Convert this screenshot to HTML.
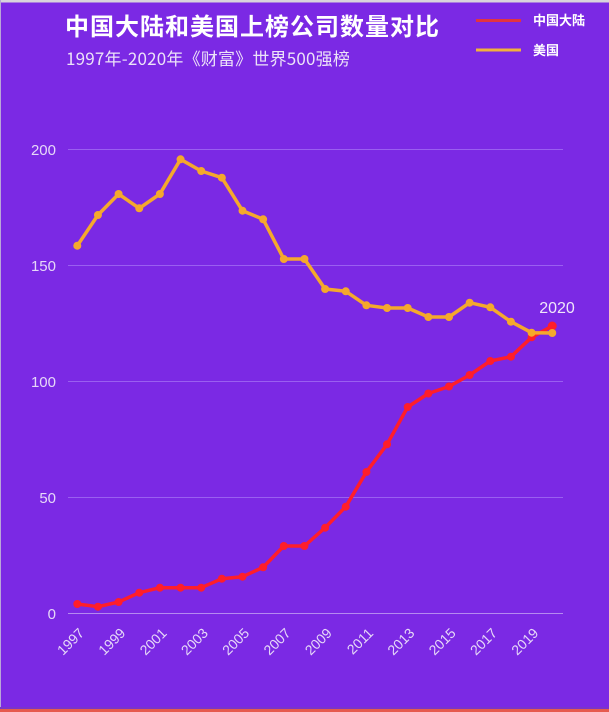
<!DOCTYPE html>
<html><head><meta charset="utf-8">
<style>
html,body{margin:0;padding:0;}
body{width:609px;height:712px;overflow:hidden;background:#7b29e4;}
svg{display:block;font-family:"Liberation Sans","Noto Sans CJK SC",sans-serif;}
</style></head>
<body>
<svg width="609" height="712" viewBox="0 0 609 712" xmlns="http://www.w3.org/2000/svg">
<rect x="0" y="0" width="609" height="712" fill="#7b29e4"/>
<rect x="0" y="0" width="609" height="2.5" fill="#d8d4dc"/>
<rect x="0" y="0" width="1" height="712" fill="#b9a6d8"/>
<rect x="0" y="707" width="609" height="2" fill="#7a35c8"/>
<rect x="0" y="709" width="609" height="3" fill="#e65a4e"/>

<!-- titles -->
<text x="65" y="35" font-size="24" font-weight="bold" fill="#ffffff" letter-spacing="1" font-family="'Noto Sans CJK SC',sans-serif">中国大陆和美国上榜公司数量对比</text>
<text x="66" y="65" font-size="17" fill="#ece2f8" letter-spacing="0.2" font-family="'Noto Sans CJK SC',sans-serif">1997年-2020年《财富》世界500强榜</text>

<!-- legend -->
<line x1="476" y1="20.5" x2="521" y2="20.5" stroke="#e2343f" stroke-width="3"/>
<text x="533" y="25" font-size="13" font-weight="bold" fill="#ffffff" font-family="'Noto Sans CJK SC',sans-serif">中国大陆</text>
<line x1="476" y1="50" x2="521" y2="50" stroke="#f2b13c" stroke-width="3"/>
<text x="533" y="55" font-size="13" font-weight="bold" fill="#ffffff" font-family="'Noto Sans CJK SC',sans-serif">美国</text>

<!-- grid -->
<g stroke="#9a5ff0" stroke-width="1">
<line x1="68" y1="149.5" x2="563" y2="149.5"/>
<line x1="68" y1="265.5" x2="563" y2="265.5"/>
<line x1="68" y1="381.5" x2="563" y2="381.5"/>
<line x1="68" y1="497.5" x2="563" y2="497.5"/>
<line x1="68" y1="613.5" x2="563" y2="613.5" stroke="#b58af0"/>
</g>
<g font-size="15" fill="#e6d8f8" text-anchor="end">
<text x="56" y="155">200</text>
<text x="56" y="271">150</text>
<text x="56" y="387">100</text>
<text x="56" y="503">50</text>
<text x="56" y="619">0</text>
</g>

<!-- x labels -->
<g font-size="14" fill="#e6d8f8" text-anchor="end">
<text transform="translate(85,634) rotate(-45)">1997</text>
<text transform="translate(126.3,634) rotate(-45)">1999</text>
<text transform="translate(167.6,634) rotate(-45)">2001</text>
<text transform="translate(208.9,634) rotate(-45)">2003</text>
<text transform="translate(250.2,634) rotate(-45)">2005</text>
<text transform="translate(291.5,634) rotate(-45)">2007</text>
<text transform="translate(332.8,634) rotate(-45)">2009</text>
<text transform="translate(374.1,634) rotate(-45)">2011</text>
<text transform="translate(415.4,634) rotate(-45)">2013</text>
<text transform="translate(456.7,634) rotate(-45)">2015</text>
<text transform="translate(498,634) rotate(-45)">2017</text>
<text transform="translate(539.3,634) rotate(-45)">2019</text>
</g>

<!-- China series -->
<g fill="#ff1e2a" stroke="none">
<polyline fill="none" stroke="#ff1e2a" stroke-width="3.5" stroke-linejoin="round"
points="77.3,604 97.95,606.7 118.6,602 139.25,592.7 159.9,587.7 180.55,587.7 201.2,587.7 221.85,578.7 242.5,576.7 263.15,567.3 283.8,546 304.45,546 325.1,527.7 345.75,506.7 366.4,472 387.05,444.3 407.7,407 428.35,393.5 449,386.5 469.65,375 490.3,361 510.95,356.7 531.6,337.3 552.25,326"/>
<circle cx="77.3" cy="604" r="4"/><circle cx="97.95" cy="606.7" r="4"/><circle cx="118.6" cy="602" r="4"/><circle cx="139.25" cy="592.7" r="4"/><circle cx="159.9" cy="587.7" r="4"/><circle cx="180.55" cy="587.7" r="4"/><circle cx="201.2" cy="587.7" r="4"/><circle cx="221.85" cy="578.7" r="4"/><circle cx="242.5" cy="576.7" r="4"/><circle cx="263.15" cy="567.3" r="4"/><circle cx="283.8" cy="546" r="4"/><circle cx="304.45" cy="546" r="4"/><circle cx="325.1" cy="527.7" r="4"/><circle cx="345.75" cy="506.7" r="4"/><circle cx="366.4" cy="472" r="4"/><circle cx="387.05" cy="444.3" r="4"/><circle cx="407.7" cy="407" r="4"/><circle cx="428.35" cy="393.5" r="4"/><circle cx="449" cy="386.5" r="4"/><circle cx="469.65" cy="375" r="4"/><circle cx="490.3" cy="361" r="4"/><circle cx="510.95" cy="356.7" r="4"/><circle cx="531.6" cy="337.3" r="4"/><circle cx="552.25" cy="326" r="4.5"/>
</g>

<!-- US series -->
<g fill="#f5a82c" stroke="none">
<polyline fill="none" stroke="#f5a82c" stroke-width="3.5" stroke-linejoin="round"
points="77.3,245.7 97.95,215 118.6,194 139.25,208.3 159.9,194 180.55,159.3 201.2,171 221.85,177.7 242.5,210.7 263.15,219.3 283.8,259 304.45,259 325.1,289 345.75,291.3 366.4,305.3 387.05,308 407.7,308 428.35,317 449,317 469.65,302.7 490.3,307.3 510.95,321.7 531.6,332.7 552.25,333"/>
<circle cx="77.3" cy="245.7" r="4"/><circle cx="97.95" cy="215" r="4"/><circle cx="118.6" cy="194" r="4"/><circle cx="139.25" cy="208.3" r="4"/><circle cx="159.9" cy="194" r="4"/><circle cx="180.55" cy="159.3" r="4"/><circle cx="201.2" cy="171" r="4"/><circle cx="221.85" cy="177.7" r="4"/><circle cx="242.5" cy="210.7" r="4"/><circle cx="263.15" cy="219.3" r="4"/><circle cx="283.8" cy="259" r="4"/><circle cx="304.45" cy="259" r="4"/><circle cx="325.1" cy="289" r="4"/><circle cx="345.75" cy="291.3" r="4"/><circle cx="366.4" cy="305.3" r="4"/><circle cx="387.05" cy="308" r="4"/><circle cx="407.7" cy="308" r="4"/><circle cx="428.35" cy="317" r="4"/><circle cx="449" cy="317" r="4"/><circle cx="469.65" cy="302.7" r="4"/><circle cx="490.3" cy="307.3" r="4"/><circle cx="510.95" cy="321.7" r="4"/><circle cx="531.6" cy="332.7" r="4"/><circle cx="552.25" cy="333" r="4"/>
</g>

<text x="557" y="313" font-size="16" fill="#efe6fa" text-anchor="middle">2020</text>
</svg>
</body></html>
